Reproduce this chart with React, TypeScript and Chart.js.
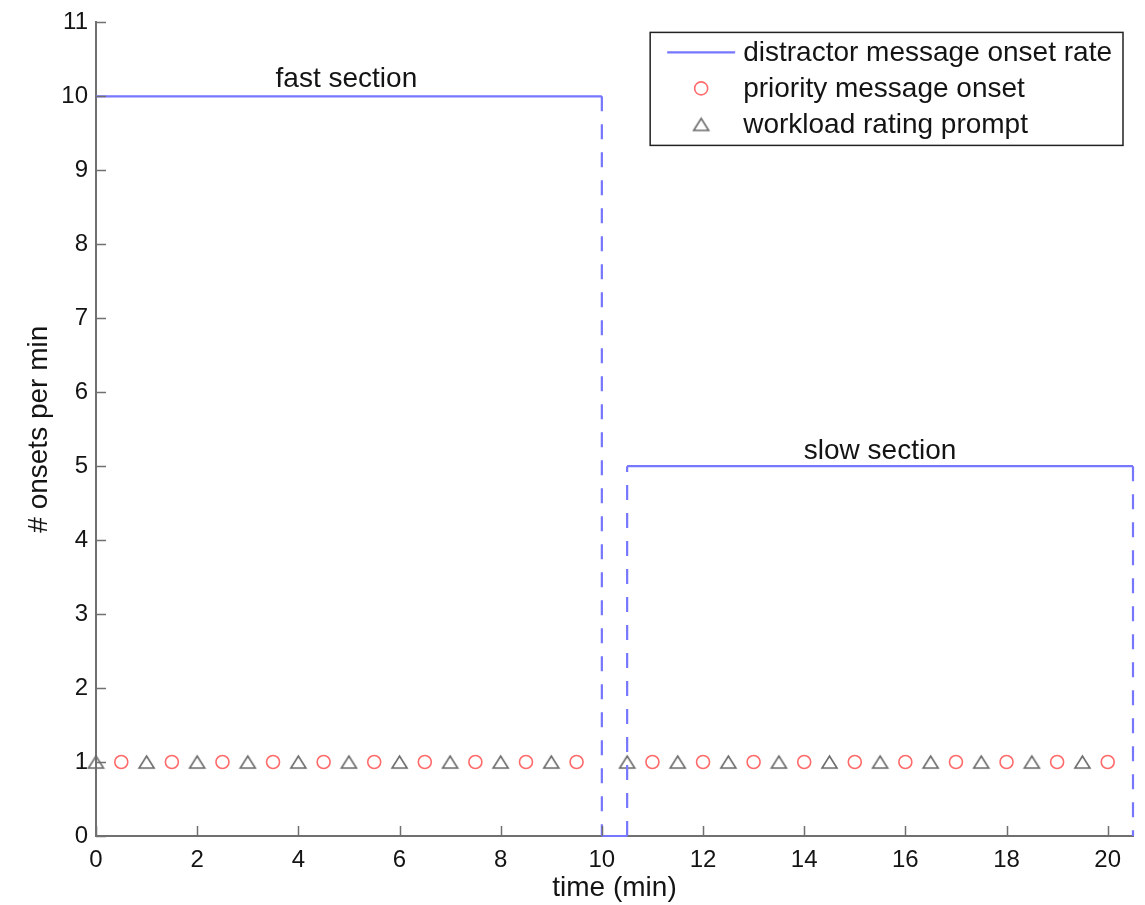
import React, { useEffect, useRef } from "react";
import { Chart, registerables } from "chart.js";

Chart.register(...registerables);

// ---- data ----
// distractor onset rate: solid level pieces and dashed transitions (null = break)
const rateSolidTimes = [0, 10, null, 10, 10.5, null, 10.5, 20.5];
const rateSolidValues = [10, 10, null, 0, 0, null, 5, 5];
const rateDashTimes = [10, 10, null, 10.5, 10.5, null, 20.5, 20.5];
const rateDashValues = [10, 0, null, 0, 5, null, 5, 0];

const priorityTimes = [0.5, 1.5, 2.5, 3.5, 4.5, 5.5, 6.5, 7.5, 8.5, 9.5, 11, 12, 13, 14, 15, 16, 17, 18, 19, 20];
const priorityValues = [1, 1, 1, 1, 1, 1, 1, 1, 1, 1, 1, 1, 1, 1, 1, 1, 1, 1, 1, 1];

const workloadTimes = [0, 1, 2, 3, 4, 5, 6, 7, 8, 9, 10.5, 11.5, 12.5, 13.5, 14.5, 15.5, 16.5, 17.5, 18.5, 19.5];
const workloadValues = [1, 1, 1, 1, 1, 1, 1, 1, 1, 1, 1, 1, 1, 1, 1, 1, 1, 1, 1, 1];

const xTicks = [0, 2, 4, 6, 8, 10, 12, 14, 16, 18, 20];
const yTicks = [0, 1, 2, 3, 4, 5, 6, 7, 8, 9, 10, 11];

const seriesLabels = ["distractor message onset rate", "priority message onset", "workload rating prompt"];

const annotationText = ["fast section", "slow section"];
const annotationX = [4.95, 15.5];
const annotationY = [10.12, 5.1];

const xTitle = "time (min)";
const yTitle = "# onsets per min";

// ---- styles ----
const FONT = "'Liberation Sans', Arial, Helvetica, sans-serif";
const BLUE = "#7676ff";
const RED = "#ff6a6a";
const GRAY = "#6a6a6a";
const AXIS = "#707070";
const TEXT = "#141414";

function makeTriangle(color: string, w: number, h: number, lw: number) {
  const c = document.createElement("canvas");
  c.width = w + 4;
  c.height = h + 4;
  const g = c.getContext("2d")!;
  g.strokeStyle = color;
  g.lineWidth = lw;
  g.beginPath();
  g.moveTo(2, h + 2);
  g.lineTo(w + 2, h + 2);
  g.lineTo(w / 2 + 2, 2);
  g.closePath();
  g.stroke();
  return c;
}

const toPoints = (xs: (number | null)[], ys: (number | null)[]) =>
  xs.map((x, i) => ({ x: x as any, y: ys[i] as any }));

export default function App() {
  const ref = useRef<HTMLCanvasElement | null>(null);

  useEffect(() => {
    if (!ref.current) return;
    const tri = makeTriangle(GRAY, 15, 12, 1.6);

    const decor = {
      id: "decor",
      afterDraw(chart: any) {
        const { ctx, chartArea } = chart;
        const xs = chart.scales.x;
        const ys = chart.scales.y;
        ctx.save();
        // inward tick marks
        ctx.strokeStyle = AXIS;
        ctx.lineWidth = 1.5;
        ctx.beginPath();
        for (const v of yTicks) {
          const py = Math.round(ys.getPixelForValue(v)) + 0.5;
          ctx.moveTo(chartArea.left, py);
          ctx.lineTo(chartArea.left + 10, py);
        }
        for (const v of xTicks) {
          const px = Math.round(xs.getPixelForValue(v)) + 0.5;
          ctx.moveTo(px, chartArea.bottom);
          ctx.lineTo(px, chartArea.bottom - 10);
        }
        ctx.stroke();

        // annotations
        ctx.fillStyle = TEXT;
        ctx.font = `28px ${FONT}`;
        ctx.textAlign = "center";
        ctx.textBaseline = "alphabetic";
        annotationText.forEach((t, i) => {
          ctx.fillText(t, xs.getPixelForValue(annotationX[i]), ys.getPixelForValue(annotationY[i]));
        });

        // legend
        ctx.font = `28px ${FONT}`;
        let tw = 0;
        seriesLabels.forEach((l) => (tw = Math.max(tw, ctx.measureText(l).width)));
        const boxW = 93 + tw + 11;
        const right = chartArea.right - 10;
        const left = right - boxW;
        const top = chartArea.top + 10;
        const rowH = 36;
        const boxH = 113;
        ctx.fillStyle = "#ffffff";
        ctx.fillRect(left, top, boxW, boxH);
        ctx.strokeStyle = "#222222";
        ctx.lineWidth = 1.5;
        ctx.setLineDash([]);
        ctx.strokeRect(left, top, boxW, boxH);
        const r0 = top + 20;
        // line sample
        ctx.strokeStyle = BLUE;
        ctx.lineWidth = 2.2;
        ctx.beginPath();
        ctx.moveTo(left + 17, r0);
        ctx.lineTo(left + 85, r0);
        ctx.stroke();
        // circle sample
        ctx.strokeStyle = RED;
        ctx.lineWidth = 1.6;
        ctx.beginPath();
        ctx.arc(left + 51, r0 + rowH, 6.5, 0, Math.PI * 2);
        ctx.stroke();
        // triangle sample
        ctx.drawImage(tri, left + 51 - tri.width / 2, r0 + 2 * rowH - tri.height / 2);
        ctx.fillStyle = TEXT;
        ctx.textAlign = "left";
        ctx.textBaseline = "middle";
        seriesLabels.forEach((l, i) => ctx.fillText(l, left + 93, r0 + i * rowH + 1));
        ctx.restore();
      },
    };

    const chart = new Chart(ref.current, {
      type: "scatter",
      data: {
        datasets: [
          {
            label: seriesLabels[0],
            type: "line",
            data: toPoints(rateSolidTimes, rateSolidValues),
            borderColor: BLUE,
            borderWidth: 2.2,
            pointRadius: 0,
            fill: false,
            tension: 0,
            spanGaps: false,
            clip: false,
          } as any,
          {
            label: seriesLabels[0] + " (transition)",
            type: "line",
            data: toPoints(rateDashTimes, rateDashValues),
            borderColor: BLUE,
            borderWidth: 2.2,
            borderDash: [15, 13],
            pointRadius: 0,
            fill: false,
            tension: 0,
            spanGaps: false,
            clip: false,
          } as any,
          {
            label: seriesLabels[1],
            data: toPoints(priorityTimes, priorityValues),
            pointStyle: "circle",
            pointRadius: 6.5,
            borderColor: RED,
            backgroundColor: "rgba(0,0,0,0)",
            pointBorderWidth: 1.6,
            showLine: false,
            clip: false,
          } as any,
          {
            label: seriesLabels[2],
            data: toPoints(workloadTimes, workloadValues),
            pointStyle: tri,
            pointRadius: 8,
            showLine: false,
            clip: false,
          } as any,
        ],
      },
      options: {
        animation: false,
        responsive: false,
        events: [],
        layout: { padding: { left: 0, right: 12, top: 20, bottom: 0 } },
        plugins: {
          legend: { display: false },
          tooltip: { enabled: false },
        },
        scales: {
          x: {
            type: "linear",
            min: 0,
            max: 20.5,
            afterBuildTicks: (s: any) => {
              s.ticks = xTicks.map((v) => ({ value: v }));
            },
            afterFit: (s: any) => {
              s.height = 69;
            },
            grid: { display: false, drawTicks: false },
            border: { display: true, color: AXIS, width: 2 },
            ticks: {
              font: { family: FONT, size: 24 },
              color: TEXT,
              padding: 10,
              maxRotation: 0,
              autoSkip: false,
            },
            title: {
              display: true,
              text: xTitle,
              font: { family: FONT, size: 28 },
              color: TEXT,
              padding: { top: 0, bottom: 0 },
            },
          },
          y: {
            type: "linear",
            min: 0,
            max: 11,
            afterBuildTicks: (s: any) => {
              s.ticks = yTicks.map((v) => ({ value: v }));
            },
            afterFit: (s: any) => {
              s.width = 96;
            },
            grid: { display: false, drawTicks: false },
            border: { display: true, color: AXIS, width: 2 },
            ticks: {
              font: { family: FONT, size: 24 },
              color: TEXT,
              padding: 8,
              autoSkip: false,
            },
            title: {
              display: true,
              text: yTitle,
              font: { family: FONT, size: 28 },
              color: TEXT,
              padding: { top: 22, bottom: 0 },
            },
          },
        },
      } as any,
      plugins: [decor],
    });
    return () => chart.destroy();
  }, []);

  return (
    <div style={{ position: "absolute", left: 0, top: 0, width: 1145, height: 905, background: "#fff" }}>
      <canvas ref={ref} width={1145} height={905} style={{ display: "block" }} />
    </div>
  );
}
